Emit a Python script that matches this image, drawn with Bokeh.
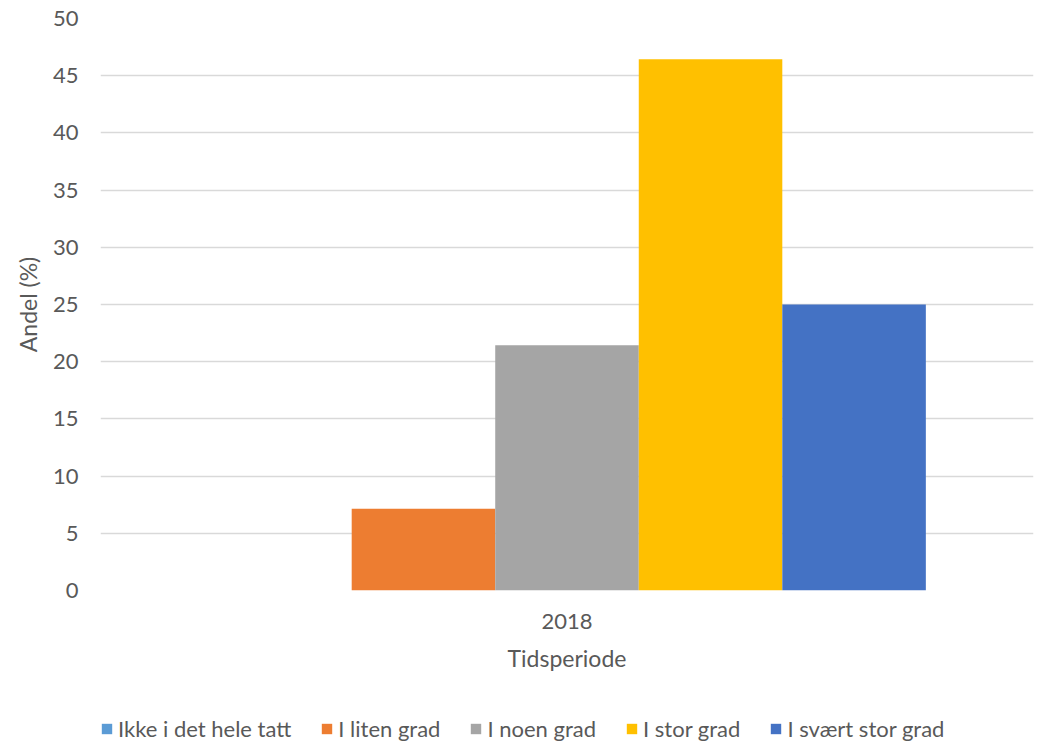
from bokeh.plotting import figure
from bokeh.layouts import column
from bokeh.models import FactorRange, Range1d, Legend, LegendItem, FixedTicker
from bokeh.transform import dodge
from bokeh.embed import file_html
from bokeh.resources import INLINE

categories = ["2018"]
series_names = ["Ikke i det hele tatt", "I liten grad", "I noen grad", "I stor grad", "I svært stor grad"]
series_values = [0.0, 7.14, 21.43, 46.43, 25.0]
series_colors = ["#5B9BD5", "#ED7D31", "#A5A5A5", "#FFC000", "#4472C4"]
y_ticks = [0, 5, 10, 15, 20, 25, 30, 35, 40, 45, 50]

FONT = "Lato"
TXT = "#595959"

p = figure(x_range=FactorRange(*categories), y_range=Range1d(0, 50),
           frame_width=933, frame_height=572, output_backend="svg", toolbar_location=None,
           min_border_left=100, min_border_right=8, min_border_top=18, min_border_bottom=110)
p.outline_line_color = None

# legend strip: same series drawn outside its visible range, only the legend shows
p2 = figure(x_range=FactorRange(*categories), y_range=Range1d(100, 101),
            width=1041, height=43, output_backend="svg", toolbar_location=None,
            x_axis_type=None, y_axis_type=None, min_border=0)
p2.outline_line_color = None
p2.grid.visible = False

bw = 1.0 / (len(series_names) + 1.5)
items = []
for i, (name, val, col) in enumerate(zip(series_names, series_values, series_colors)):
    off = (i - 2) * bw
    src = dict(x=categories, top=[val])
    p.vbar(x=dodge("x", off, range=p.x_range), top="top", width=bw,
           source=src, fill_color=col, line_color=None)
    r2 = p2.vbar(x=dodge("x", off, range=p2.x_range), top="top", width=bw,
                 source=dict(src), fill_color=col, line_color=None)
    items.append(LegendItem(label=name, renderers=[r2]))

p.yaxis.ticker = FixedTicker(ticks=y_ticks)
p.yaxis.axis_line_color = None
p.yaxis.major_tick_line_color = None
p.yaxis.minor_tick_line_color = None
p.yaxis.major_tick_out = 0
p.yaxis.major_tick_in = 0
p.yaxis.major_label_text_font = FONT
p.yaxis.major_label_text_font_size = "22px"
p.yaxis.major_label_text_color = TXT
p.yaxis.major_label_standoff = 22
p.yaxis.axis_label = "Andel (%)"
p.yaxis.axis_label_text_font = FONT
p.yaxis.axis_label_text_font_size = "23px"
p.yaxis.axis_label_text_font_style = "normal"
p.yaxis.axis_label_text_color = TXT
p.yaxis.axis_label_standoff = 8

p.xaxis.axis_line_color = None
p.xaxis.major_tick_line_color = None
p.xaxis.minor_tick_line_color = None
p.xaxis.major_tick_out = 0
p.xaxis.major_tick_in = 0
p.xaxis.major_label_text_font = FONT
p.xaxis.major_label_text_font_size = "22px"
p.xaxis.major_label_text_color = TXT
p.xaxis.major_label_standoff = 23
p.xaxis.axis_label = "Tidsperiode"
p.xaxis.axis_label_text_font = FONT
p.xaxis.axis_label_text_font_size = "23px"
p.xaxis.axis_label_text_font_style = "normal"
p.xaxis.axis_label_text_color = TXT
p.xaxis.axis_label_standoff = 12

p.xgrid.grid_line_color = None
p.ygrid.grid_line_color = "#D9D9D9"
p.ygrid.grid_line_width = 1.3

legend = Legend(items=items, orientation="horizontal", location=(0, 1),
                label_text_font=FONT, label_text_font_size="22px", label_text_color=TXT,
                glyph_width=13, glyph_height=13, spacing=29, label_standoff=5,
                border_line_color=None, background_fill_alpha=0, margin=0, padding=0)
p2.add_layout(legend, "center")

layout = column(p, p2, spacing=0)
open("out.html", "w").write(file_html(layout, INLINE))
